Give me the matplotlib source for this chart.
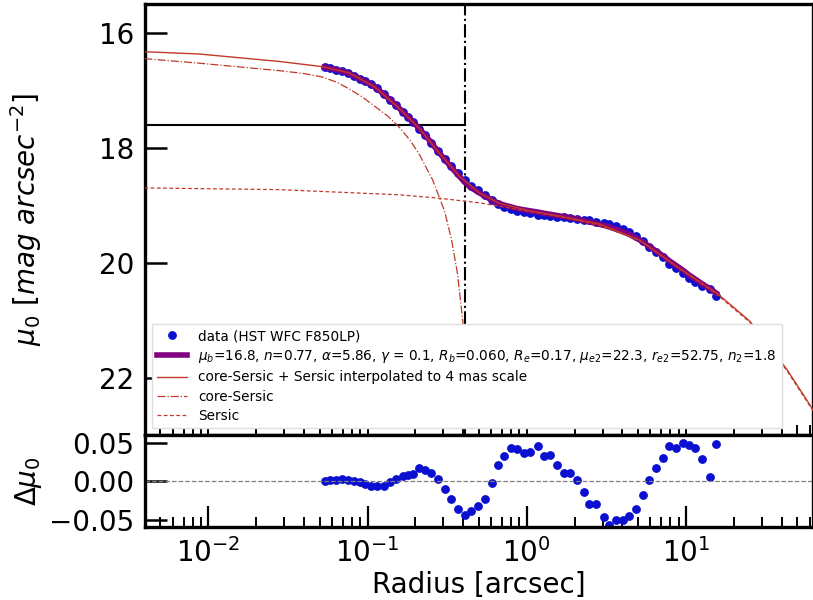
import matplotlib
matplotlib.use('Agg')
import matplotlib.pyplot as plt
import numpy as np

# data points (radius in arcsec), fitted profile at those radii and residuals
radius = [0.0537, 0.0582, 0.0635, 0.0693, 0.0752, 0.0820, 0.0891, 0.0971, 0.1055, 0.1144,
          0.1267, 0.139, 0.1517, 0.1668, 0.1792, 0.1926, 0.2103, 0.2282, 0.2515, 0.2768,
          0.3048, 0.3357, 0.3696, 0.4074, 0.4487, 0.4942,
          0.5500, 0.6050, 0.6574, 0.7244, 0.7969, 0.8689, 0.9572, 1.054, 1.172, 1.279,
          1.409, 1.552, 1.710, 1.884, 2.072, 2.282, 2.478, 2.728, 3.048, 3.311,
          3.645, 4.018, 4.426, 4.868, 5.370, 5.914, 6.507, 7.166, 7.898, 8.692,
          9.575, 10.55, 11.50, 12.67, 14.10, 15.53]
mu_fit = [16.60, 16.62, 16.64, 16.67, 16.70, 16.75, 16.80, 16.85, 16.90, 16.97,
          17.07, 17.17, 17.26, 17.38, 17.46, 17.55, 17.66, 17.77, 17.91, 18.06,
          18.20, 18.34, 18.47, 18.60, 18.70, 18.77,
          18.85, 18.91, 18.96, 19.00, 19.03, 19.06, 19.08, 19.10, 19.12, 19.14,
          19.16, 19.18, 19.20, 19.22, 19.24, 19.27, 19.29, 19.32, 19.35, 19.38,
          19.42, 19.46, 19.51, 19.57, 19.64, 19.72, 19.80, 19.88, 19.97, 20.05,
          20.13, 20.22, 20.29, 20.37, 20.45, 20.53]
resid = [0.000, 0.0013, 0.0021, 0.0030, 0.0021, 0.0004, -0.0013, -0.0034, -0.0064, -0.0056,
         -0.0056, -0.0013, 0.0030, 0.0064, 0.0081, 0.0090, 0.0179, 0.0150, 0.0107, 0.0030,
         -0.0098, -0.0226, -0.0354, -0.0440, -0.0384, -0.0320,
         -0.0226, -0.0021, 0.0214, 0.0329, 0.0427, 0.0414, 0.0363, 0.0384, 0.0457, 0.0329,
         0.0346, 0.0214, 0.0107, 0.0107, 0.0021, -0.0141, -0.0299, -0.0299, -0.0457, -0.0568,
         -0.0504, -0.0500, -0.0448, -0.0363, -0.0171, 0.0021, 0.0171, 0.0299, 0.0457, 0.0427,
         0.0500, 0.0470, 0.0427, 0.0286, 0.0056, 0.0483]

# core-Sersic + Sersic interpolated model
r_tot = [0.00396, 0.00878, 0.02796, 0.0521, 0.0770, 0.1107, 0.1589, 0.2123, 0.2836, 0.3791,
         0.5064, 0.6766, 1.044, 1.612, 2.877, 5.138, 9.17, 15.66, 25.27, 43.2, 63.0]
mu_tot = [16.33, 16.37, 16.50, 16.59, 16.70, 16.94, 17.32, 17.67, 18.10, 18.50,
          18.79, 18.97, 19.10, 19.19, 19.33, 19.61, 20.10, 20.53, 21.02, 21.86, 22.56]

# core-Sersic component
r_cs = [0.00396, 0.00878, 0.02796, 0.040, 0.052, 0.064, 0.077, 0.093, 0.111, 0.134,
        0.159, 0.185, 0.212, 0.2565, 0.3048, 0.3373, 0.368, 0.3958, 0.4256]
mu_cs = [16.45, 16.53, 16.66, 16.71, 16.77, 16.86, 16.98, 17.12, 17.28, 17.45,
         17.65, 17.87, 18.12, 18.56, 19.10, 19.60, 20.20, 20.99, 21.80]

# outer Sersic component
r_s = [0.00396, 0.02796, 0.1589, 0.2836, 0.5064, 1.044, 1.612, 2.877, 5.138, 9.17,
       15.66, 25.27, 43.2, 63.0]
mu_s = [18.70, 18.73, 18.82, 18.88, 18.96, 19.11, 19.20, 19.35, 19.62, 20.11,
        20.55, 21.04, 21.88, 22.58]

r_break = 0.41
mu_break = 17.6

mu_data = np.array(mu_fit) + np.array(resid)

fig = plt.figure(figsize=(8.13, 6.0), dpi=100)
ax1 = fig.add_axes([0.1784, 0.275, 0.8216, 0.7183])
ax2 = fig.add_axes([0.1784, 0.1217, 0.8216, 0.1533], sharex=ax1)

red = '#c0392b'
blue = '#0a0fd0'
ax1.plot(radius, mu_data, 'o', color=blue, ms=5.3, label='data (HST WFC F850LP)', zorder=2)
ax1.plot(radius, mu_fit, '-', color='#800080', lw=4,
         label=r'$\mu_b$=16.8, $n$=0.77, $\alpha$=5.86, $\gamma$ = 0.1, $R_b$=0.060, '
               r'$R_e$=0.17, $\mu_{e2}$=22.3, $r_{e2}$=52.75, $n_2$=1.8', zorder=3)
ax1.plot(r_tot, mu_tot, '-', color=red, lw=1, label='core-Sersic + Sersic interpolated to 4 mas scale', zorder=4)
ax1.plot(r_cs, mu_cs, '-.', color=red, lw=0.9, label='core-Sersic', zorder=4)
ax1.plot(r_s, mu_s, '--', color=red, lw=0.9, dashes=(3, 2), label='Sersic', zorder=4)
ax1.axvline(r_break, color='k', ls='-.', lw=1.5, zorder=1)
ax1.plot([0.004, r_break], [mu_break, mu_break], 'k-', lw=1.5, zorder=1)

ax1.set_xscale('log')
ax1.set_xlim(0.004, 63)
ax1.set_ylim(23.0, 15.5)
ax1.set_yticks([16, 18, 20, 22])
ax1.set_ylabel(r'$\mu_0\ [mag\ arcsec^{-2}]$', fontsize=20)
ax1.yaxis.set_label_coords(-0.152, 0.5)
ax1.tick_params(axis='y', which='major', direction='in', length=16, width=1.8, labelsize=20, pad=8)
ax1.tick_params(axis='x', which='both', direction='in', length=7, width=1.4, labelbottom=False)
leg = ax1.legend(loc='lower left', fontsize=9.8, handlelength=2.2, borderaxespad=0.5,
                 labelspacing=0.38, framealpha=1.0, fancybox=False)
leg.get_frame().set_edgecolor('#dddddd')
leg.set_zorder(10)

ax2.plot(radius, resid, 'o', color=blue, ms=5.3)
ax2.axhline(0, color='gray', ls='--', lw=0.9)
ax2.set_ylim(-0.059, 0.060)
ax2.set_yticks([-0.05, 0.0, 0.05])
ax2.set_yticklabels(['\u22120.05', '0.00', '0.05'])
ax2.set_ylabel(r'$\Delta\mu_0$', fontsize=20)
ax2.yaxis.set_label_coords(-0.152, 0.5)
ax2.set_xlabel('Radius [arcsec]', fontsize=20, labelpad=2)
ax2.tick_params(axis='y', which='major', direction='in', length=16, width=1.8, labelsize=20, pad=8)
ax2.tick_params(axis='x', which='major', direction='in', length=15, width=1.6, labelsize=20, pad=8)
ax2.tick_params(axis='x', which='minor', direction='in', length=7, width=1.4)

for ax in (ax1, ax2):
    for s in ax.spines.values():
        s.set_linewidth(2.4)

fig.savefig('out.png', dpi=100)
